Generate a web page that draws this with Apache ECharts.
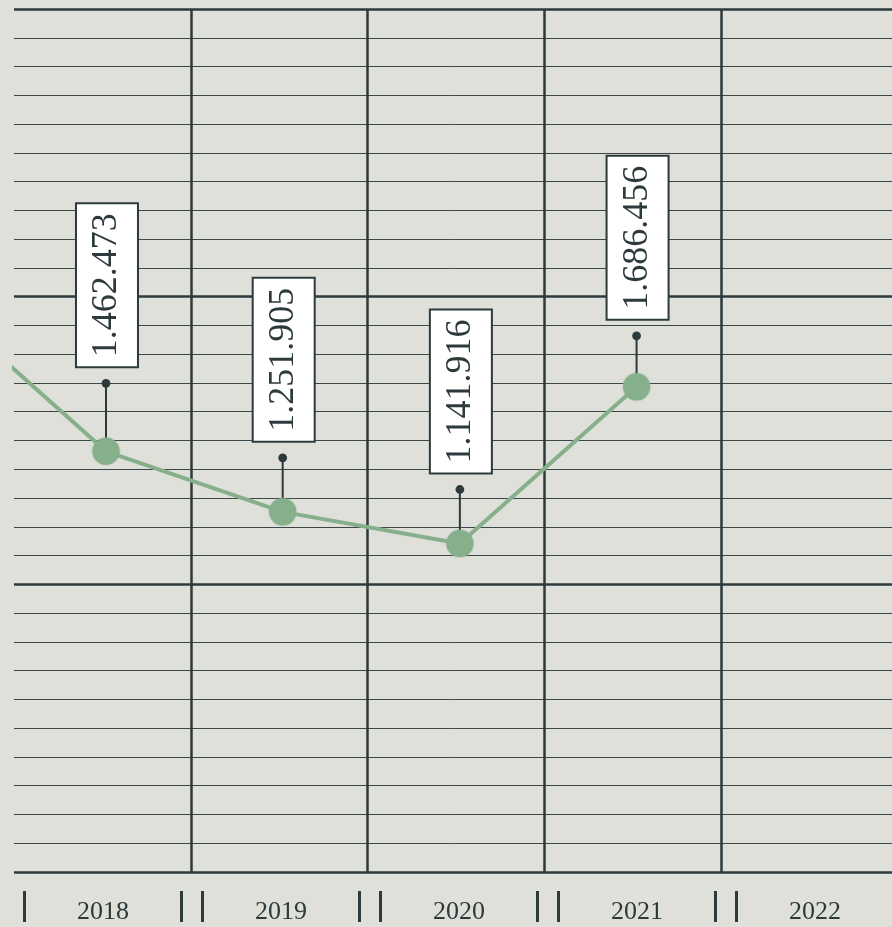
<!DOCTYPE html>
<html>
<head>
<meta charset="utf-8">
<script src="https://cdn.jsdelivr.net/npm/echarts@6/dist/echarts.min.js"></script>
<style>
html,body{margin:0;padding:0;background:#e0e0db;}
#chart{width:892px;height:927px;}
</style>
</head>
<body>
<div id="chart"></div>
<script>
// ---- data ----
const yearLabels = ['2018', '2019', '2020', '2021', '2022'];
const pointDates = ['2017-07-10', '2018-07-10', '2019-07-10', '2020-07-10', '2021-07-10'];
const pointValues = [2010000, 1462473, 1251905, 1141916, 1686456];
const labelDates = ['2018-07-10', '2019-07-10', '2020-07-10', '2021-07-10'];
const labelValues = [1462473, 1251905, 1141916, 1686456];

// ---- style ----
const DARK = '#2c3a3c';
const GREEN = '#86b08b';
const BG = '#e0e0db';
const stemLift = [68, 54, 54, 51];

function fmt(v) {
  return String(Math.round(v)).replace(/\B(?=(\d{3})+(?!\d))/g, '.');
}

const chart = echarts.init(document.getElementById('chart'), null, {renderer: 'canvas'});

const option = {
  backgroundColor: BG,
  animation: false,
  grid: [
    {left: 14, top: 9, width: 884, height: 863, containLabel: false, outerBoundsMode: 'none'},
    {left: 14, top: 9, width: 890, height: 863, containLabel: false, outerBoundsMode: 'none'}
  ],
  xAxis: [
    {
      type: 'time',
      gridIndex: 0,
      min: '2018-01-01',
      max: '2023-01-01',
      splitNumber: 5,
      axisLine: {show: false},
      axisTick: {show: false},
      axisLabel: {show: false},
      splitLine: {show: false}
    },
    {
      type: 'category',
      gridIndex: 0,
      data: yearLabels,
      boundaryGap: true,
      position: 'bottom',
      axisLine: {show: false},
      axisTick: {show: false},
      axisLabel: {show: false},
      splitLine: {
        show: true,
        interval: (index) => index > 0,
        lineStyle: {color: DARK, width: 2.5}
      }
    },
    {
      type: 'category',
      gridIndex: 1,
      data: yearLabels,
      boundaryGap: true,
      position: 'bottom',
      axisLine: {show: false},
      axisTick: {show: false},
      splitLine: {show: false},
      axisLabel: {
        margin: 19,
        interval: 0,
        formatter: v => '{b| }{t|' + v + '}{b| }',
        rich: {
          b: {width: 3, height: 31, backgroundColor: DARK, fontSize: 10},
          t: {width: 154, align: 'center', fontSize: 26, fontFamily: '"Liberation Serif", serif', color: DARK, lineHeight: 31, padding: [12, 0, 0, 0]}
        }
      }
    }
  ],
  yAxis: [
    {
      type: 'value',
      gridIndex: 0,
      min: 0,
      max: 3000000,
      interval: 1000000,
      axisLine: {show: false},
      axisTick: {show: false},
      axisLabel: {show: false},
      splitLine: {show: true, lineStyle: {color: DARK, width: 2.5}},
      minorTick: {show: false, splitNumber: 10},
      minorSplitLine: {show: true, lineStyle: {color: '#3b4749', width: 1}}
    },
    {
      type: 'value',
      gridIndex: 1,
      show: false
    }
  ],
  series: [
    {
      type: 'custom',
      xAxisIndex: 0,
      yAxisIndex: 0,
      z: 2,
      clip: false,
      data: labelDates.map((d, i) => [d, labelValues[i]]),
      renderItem: function (params, api) {
        const p = api.coord([api.value(0), api.value(1)]);
        const lift = stemLift[params.dataIndex];
        const dotY = p[1] - lift;
        const boxCy = dotY - 16.5 - 81.5;
        return {
          type: 'group',
          children: [
            {type: 'line', shape: {x1: p[0], y1: p[1], x2: p[0], y2: dotY}, style: {stroke: DARK, lineWidth: 2}},
            {type: 'circle', shape: {cx: p[0], cy: dotY, r: 4.4}, style: {fill: DARK}},
            {
              type: 'text', x: p[0] + 1, y: boxCy, rotation: Math.PI / 2,
              style: {
                text: fmt(api.value(1)),
                font: '36px "Liberation Serif", serif',
                fill: DARK,
                align: 'center',
                verticalAlign: 'middle',
                lineHeight: 40,
                backgroundColor: '#ffffff',
                borderColor: DARK,
                borderWidth: 2,
                padding: [10, 9]
              }
            }
          ]
        };
      }
    },
    {
      type: 'line',
      xAxisIndex: 0,
      yAxisIndex: 0,
      z: 3,
      clip: true,
      data: pointDates.map((d, i) => [d, pointValues[i]]),
      showAllSymbol: true,
      symbol: 'circle',
      symbolSize: 27,
      lineStyle: {color: GREEN, width: 4},
      itemStyle: {color: GREEN, shadowBlur: 2, shadowColor: GREEN},
      emphasis: {disabled: true},
      label: {show: false}
    }
  ]
};
chart.setOption(option);
</script>
</body>
</html>
